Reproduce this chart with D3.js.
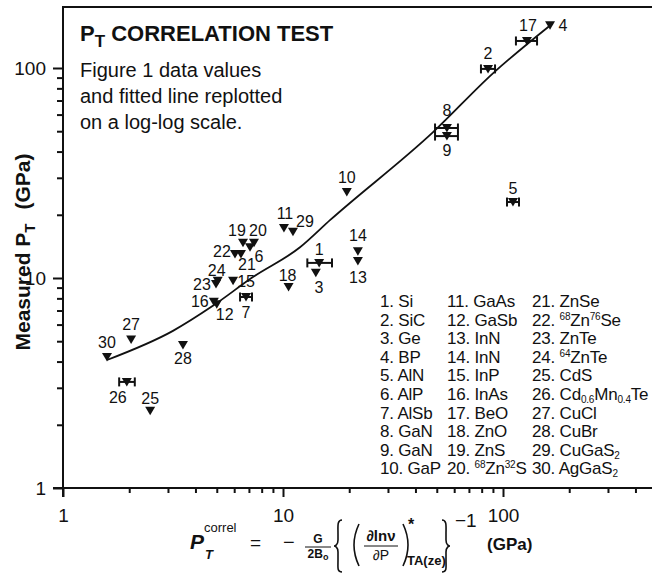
<!DOCTYPE html>
<html>
<head>
<meta charset="utf-8">
<script src="https://cdn.jsdelivr.net/npm/d3@7"></script>
<style>
  body { margin: 0; background: #fff; }
  svg { display: block; font-family: "Liberation Sans", Arial, Helvetica, sans-serif; }
</style>
</head>
<body>
<svg width="652" height="574"></svg>
<script>
// ---------------- data ----------------
const ids = [1, 2, 3, 4, 5, 6, 7, 8, 9, 10, 11, 12, 13, 14, 15,
             16, 17, 18, 19, 20, 21, 22, 23, 24, 25, 26, 27, 28, 29, 30];
const pCorrel = [14.6, 85.5, 14.1, 163.6, 111, 7.08, 6.79, 55.6, 55.6, 19.5, 10.1, 5.0, 21.9, 21.9, 5.93,
                 4.85, 128.5, 10.6, 6.58, 7.38, 6.44, 6.05, 4.96, 5.05, 2.49, 1.95, 2.04, 3.51, 11.1, 1.585];
const pMeasured = [11.8, 99, 10.6, 160, 23, 14.0, 8.12, 51.8, 47.4, 25.7, 17.3, 7.5, 12.05, 13.4, 9.7,
                   7.7, 134.5, 9.06, 14.7, 14.7, 13.0, 13.0, 9.36, 9.7, 2.33, 3.2, 5.1, 4.8, 16.6, 4.2];
const materials = ["Si", "SiC", "Ge", "BP", "AlN", "AlP", "AlSb", "GaN", "GaN", "GaP",
                   "GaAs", "GaSb", "InN", "InN", "InP", "InAs", "BeO", "ZnO", "ZnS", "^{68}Zn^{32}S",
                   "ZnSe", "^{68}Zn^{76}Se", "ZnTe", "^{64}ZnTe", "CdS", "Cd_{0.6}Mn_{0.4}Te", "CuCl", "CuBr", "CuGaS_{2}", "AgGaS_{2}"];

// horizontal error bars (x range)
const errIds  = [1, 2, 5, 7, 8, 9, 17, 26];
const errLow  = [12.9, 79.4, 104.3, 6.38, 49.1, 49.1, 114.5, 1.80];
const errHigh = [16.7, 92.0, 118.2, 7.23, 62.4, 62.4, 142.8, 2.12];

// fitted line (from Figure 1)
const fitX = [1.585, 3.16, 4.8, 7.3, 11.95, 16.4, 48.1, 90, 168];
const fitY = [4.07, 5.6, 7.37, 10.1, 14.0, 18.9, 49.5, 94.3, 163];

// axis ticks
const majorTicks = [1, 10, 100];
const xMinor = [2, 3, 4, 5, 6, 7, 8, 9, 20, 30, 40, 50, 60, 70, 80, 90, 200, 300, 400];
const yMinor = [2, 3, 4, 5, 6, 7, 8, 9, 20, 30, 40, 50, 60, 70, 80, 90];

// ---------------- setup ----------------
const svg = d3.select('svg');
const x = d3.scaleLog().domain([1, 100]).range([63, 503]);
const y = d3.scaleLog().domain([1, 100]).range([488, 68]);
const plotLeft = 63, plotBottom = 488, plotTop = 7, plotRight = 652;

// label offsets around each marker (dx, dy)
const labelOffset = {
  1: [0, -14], 2: [0, -16], 3: [3, 15], 4: [13, 0], 5: [0, -14], 6: [9, 9], 7: [0, 15],
  8: [0, -18], 9: [0, 14], 10: [0, -15], 11: [1, -15], 12: [8, 10], 13: [0, 16], 14: [0, -16],
  15: [13, 1], 16: [-14, 0], 17: [1, -16], 18: [-1, -12], 19: [-6, -12], 20: [4, -12],
  21: [6, 10], 22: [-13, -3], 23: [-14, 0], 24: [-1, -10], 25: [0, -12], 26: [-9, 15],
  27: [0, -15], 28: [0, 13], 29: [12, -10], 30: [0, -15]
};

// ---------------- axes ----------------
const yAxisG = svg.append('g').attr('transform', `translate(${plotLeft},0)`);
yAxisG.call(d3.axisLeft(y).tickValues(majorTicks).tickSize(10).tickPadding(7).tickFormat(d3.format('d')));
yAxisG.append('g').call(d3.axisLeft(y).tickValues(yMinor).tickSize(6).tickFormat(''));

const xAxisG = svg.append('g').attr('transform', `translate(0,${plotBottom})`);
xAxisG.call(d3.axisBottom(x).tickValues(majorTicks).tickSize(9).tickPadding(12).tickFormat(d3.format('d')));
xAxisG.append('g').call(d3.axisBottom(x).tickValues(xMinor).tickSize(5).tickFormat(''));

svg.selectAll('.domain').remove();
svg.selectAll('.tick line').attr('stroke', '#111').attr('stroke-width', 2);
svg.selectAll('.tick text').attr('fill', '#111').attr('font-size', 19)
  .attr('font-family', '"Liberation Sans", Arial, sans-serif');

// frame lines
svg.append('line').attr('x1', plotLeft).attr('x2', plotLeft).attr('y1', plotTop).attr('y2', plotBottom + 9)
  .attr('stroke', '#111').attr('stroke-width', 2);
svg.append('line').attr('x1', plotLeft - 10).attr('x2', plotRight).attr('y1', plotBottom).attr('y2', plotBottom)
  .attr('stroke', '#111').attr('stroke-width', 2);
svg.append('line').attr('x1', plotLeft - 1).attr('x2', plotRight).attr('y1', plotTop).attr('y2', plotTop)
  .attr('stroke', '#111').attr('stroke-width', 2);

// ---------------- fitted line ----------------
const fit = fitX.map((d, i) => [d, fitY[i]]);
svg.append('path')
  .datum(fit)
  .attr('fill', 'none').attr('stroke', '#111').attr('stroke-width', 1.8)
  .attr('d', d3.line().x(d => x(d[0])).y(d => y(d[1])).curve(d3.curveMonotoneX));

// ---------------- error bars ----------------
const errData = errIds.map((id, i) => ({ id, lo: errLow[i], hi: errHigh[i], yv: pMeasured[id - 1] }));
const eg = svg.append('g').attr('stroke', '#111').attr('stroke-width', 2);
errData.forEach(d => {
  const yy = y(d.yv);
  eg.append('line').attr('x1', x(d.lo)).attr('x2', x(d.hi)).attr('y1', yy).attr('y2', yy);
  eg.append('line').attr('x1', x(d.lo)).attr('x2', x(d.lo)).attr('y1', yy - 4.5).attr('y2', yy + 4.5);
  eg.append('line').attr('x1', x(d.hi)).attr('x2', x(d.hi)).attr('y1', yy - 4.5).attr('y2', yy + 4.5);
});

// ---------------- markers ----------------
const pts = ids.map((id, i) => ({ id, xv: pCorrel[i], yv: pMeasured[i] }));
svg.append('g').selectAll('path')
  .data(pts).enter().append('path')
  .attr('d', 'M-5,-4L5,-4L0,4.5Z')
  .attr('fill', '#111')
  .attr('transform', d => `translate(${x(d.xv)},${y(d.yv)})`);

svg.append('g').selectAll('text')
  .data(pts).enter().append('text')
  .attr('x', d => x(d.xv) + labelOffset[d.id][0])
  .attr('y', d => y(d.yv) + labelOffset[d.id][1])
  .attr('dy', '0.35em')
  .attr('text-anchor', 'middle')
  .attr('font-size', 16)
  .attr('fill', '#111')
  .text(d => d.id);

// ---------------- legend ----------------
function richText(sel, str, small) {
  const parts = str.split(/(\^\{[^}]*\}|_\{[^}]*\})/).filter(s => s.length);
  let shift = 0;
  parts.forEach(p => {
    let dy = 0, txt = p, fs = null;
    if (p.startsWith('^{')) { txt = p.slice(2, -1); dy = -6 - shift; shift = -6; fs = small; }
    else if (p.startsWith('_{')) { txt = p.slice(2, -1); dy = 3 - shift; shift = 3; fs = small; }
    else { dy = -shift; shift = 0; }
    const t = sel.append('tspan').attr('dy', dy).text(txt);
    if (fs) t.attr('font-size', fs);
  });
}

const legCols = [380, 447, 532];
const leg = svg.append('g').attr('font-size', 17).attr('letter-spacing', -0.2).attr('fill', '#111');
materials.forEach((m, i) => {
  const col = Math.floor(i / 10), row = i % 10;
  const t = leg.append('text').attr('x', legCols[col]).attr('y', 307 + row * 18.6);
  t.append('tspan').text(ids[i] + '. ');
  richText(t, m, 10);
});

// ---------------- titles ----------------
const title = svg.append('text').attr('x', 80).attr('y', 41)
  .attr('font-size', 22).attr('font-weight', 'bold').attr('fill', '#111');
title.append('tspan').text('P');
title.append('tspan').attr('font-size', 17).attr('dy', 6).text('T');
title.append('tspan').attr('dy', -6).text(' CORRELATION TEST');

const note = ['Figure 1 data values', 'and fitted line replotted', 'on a log-log scale.'];
svg.append('g').selectAll('text').data(note).enter().append('text')
  .attr('x', 80).attr('y', (d, i) => 77 + i * 26)
  .attr('font-size', 20).attr('fill', '#111').text(d => d);

// y axis title
const yt = svg.append('text').attr('transform', 'translate(30,252) rotate(-90)')
  .attr('text-anchor', 'middle').attr('font-size', 21).attr('font-weight', 'bold').attr('fill', '#111');
yt.append('tspan').text('Measured P');
yt.append('tspan').attr('font-size', 15).attr('dy', 5).text('T');
yt.append('tspan').attr('dy', -5).attr('dx', 14).text('(GPa)');

// x axis title (formula)
const xt = svg.append('g').attr('fill', '#111');
xt.append('text').attr('x', 190).attr('y', 549).attr('font-size', 21)
  .attr('font-weight', 'bold').attr('font-style', 'italic').text('P');
xt.append('text').attr('x', 205).attr('y', 559).attr('font-size', 13).attr('font-weight', 'bold')
  .attr('font-style', 'italic').text('T');
xt.append('text').attr('x', 204).attr('y', 532).attr('font-size', 13).text('correl');
xt.append('text').attr('x', 250).attr('y', 549).attr('font-size', 19).text('=');
xt.append('text').attr('x', 283).attr('y', 549).attr('font-size', 20).text('\u2212');
xt.append('text').attr('x', 318).attr('y', 543).attr('font-size', 12).attr('font-weight', 'bold')
  .attr('text-anchor', 'middle').text('G');
xt.append('line').attr('x1', 305).attr('x2', 331).attr('y1', 547).attr('y2', 547)
  .attr('stroke', '#111').attr('stroke-width', 1);
const den = xt.append('text').attr('x', 318).attr('y', 558).attr('font-size', 12).attr('font-weight', 'bold')
  .attr('text-anchor', 'middle');
den.append('tspan').text('2B');
den.append('tspan').attr('font-size', 9).attr('dy', 2).text('o');

// braces and parentheses
const brace = (x0, s) =>
  `M${x0 + 5 * s},520 C${x0},520 ${x0 + 1 * s},526 ${x0 + 1 * s},534 L${x0 + 1 * s},540 ` +
  `C${x0 + 1 * s},545 ${x0 - 2 * s},546 ${x0 - 3 * s},546 C${x0 - 2 * s},546 ${x0 + 1 * s},547 ${x0 + 1 * s},552 ` +
  `L${x0 + 1 * s},560 C${x0 + 1 * s},568 ${x0},572 ${x0 + 5 * s},572`;
xt.append('path').attr('d', brace(337, 1)).attr('fill', 'none').attr('stroke', '#111').attr('stroke-width', 1.6);
xt.append('path').attr('d', brace(447, -1)).attr('fill', 'none').attr('stroke', '#111').attr('stroke-width', 1.6);
xt.append('path').attr('d', 'M359,524 Q349,545 359,566').attr('fill', 'none').attr('stroke', '#111').attr('stroke-width', 1.6);
xt.append('path').attr('d', 'M403,524 Q413,545 403,566').attr('fill', 'none').attr('stroke', '#111').attr('stroke-width', 1.6);

xt.append('text').attr('x', 381).attr('y', 541).attr('font-size', 15).attr('font-weight', 'bold')
  .attr('text-anchor', 'middle').text('\u2202ln\u03bd');
xt.append('line').attr('x1', 364).attr('x2', 398).attr('y1', 546).attr('y2', 546)
  .attr('stroke', '#111').attr('stroke-width', 1);
xt.append('text').attr('x', 381).attr('y', 560).attr('font-size', 14)
  .attr('text-anchor', 'middle').text('\u2202P');
xt.append('text').attr('x', 408).attr('y', 530).attr('font-size', 16).attr('font-weight', 'bold').text('*');
xt.append('text').attr('x', 407).attr('y', 565).attr('font-size', 13).attr('font-weight', 'bold').text('TA(ze)');
xt.append('text').attr('x', 455).attr('y', 527).attr('font-size', 19).text('\u22121');
xt.append('text').attr('x', 487).attr('y', 550).attr('font-size', 17).attr('font-weight', 'bold').text('(GPa)');
</script>
</body>
</html>
